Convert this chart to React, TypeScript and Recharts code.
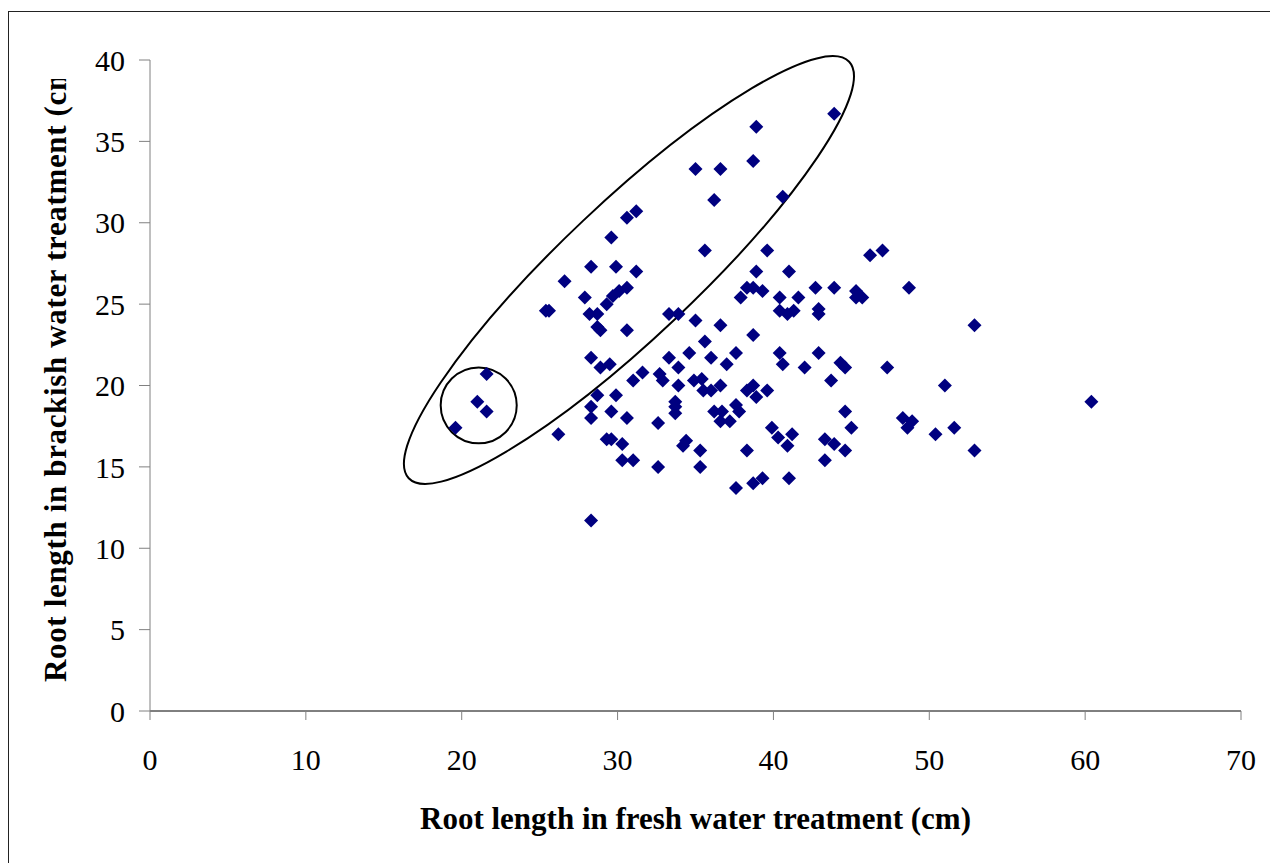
import React from "react";
import { ScatterChart, Scatter, XAxis, YAxis, ReferenceArea, Label } from "recharts";

// root length (cm) per accession: fresh water treatment (x) vs brackish water treatment (y)
const freshWater = [
  19.6, 21.0, 21.6, 21.6, 25.4, 25.6, 26.2, 26.6, 27.9, 28.3,
  28.2, 28.7, 28.3, 28.3, 28.3, 28.3, 28.7, 28.9, 28.7, 28.9,
  29.5, 29.6, 29.9, 29.3, 29.7, 30.1, 30.6, 29.9, 29.6, 29.3,
  29.6, 30.6, 31.2, 31.2, 30.6, 30.6, 30.3, 30.3, 31.0, 31.0,
  31.6, 32.6, 32.6, 32.7, 32.9, 33.3, 33.9, 33.3, 33.9, 33.9,
  33.7, 33.7, 33.7, 34.2, 34.4, 34.6, 34.9, 35.0, 35.0, 35.3,
  35.3, 35.4, 35.5, 35.6, 35.6, 36.0, 36.0, 36.2, 36.2, 36.6,
  36.6, 36.6, 36.7, 36.6, 37.0, 37.2, 37.6, 37.6, 37.8, 37.6,
  37.9, 38.3, 38.3, 38.3, 38.7, 38.7, 38.7, 38.7, 38.7, 38.9,
  38.9, 38.9, 39.3, 39.3, 39.6, 39.6, 39.9, 40.3, 40.4, 40.4,
  40.4, 40.6, 40.6, 40.9, 40.9, 41.0, 41.0, 41.2, 41.3, 41.6,
  42.0, 42.7, 42.9, 42.9, 42.9, 43.3, 43.3, 43.7, 43.9, 43.9,
  43.9, 44.3, 44.6, 44.6, 44.6, 45.0, 45.3, 45.3, 45.7, 46.2,
  47.0, 47.3, 48.3, 48.6, 48.7, 48.9, 50.4, 51.0, 51.6, 52.9,
  52.9, 60.4,
];
const brackishWater = [
  17.4, 19.0, 18.4, 20.7, 24.6, 24.6, 17.0, 26.4, 25.4, 27.3,
  24.4, 24.4, 21.7, 18.7, 18.0, 11.7, 23.6, 23.4, 19.4, 21.1,
  21.3, 29.1, 27.3, 25.0, 25.5, 25.8, 26.0, 19.4, 18.4, 16.7,
  16.7, 30.3, 30.7, 27.0, 23.4, 18.0, 16.4, 15.4, 15.4, 20.3,
  20.8, 17.7, 15.0, 20.7, 20.3, 24.4, 24.4, 21.7, 21.1, 20.0,
  19.0, 18.7, 18.3, 16.3, 16.6, 22.0, 20.3, 24.0, 33.3, 16.0,
  15.0, 20.4, 19.7, 22.7, 28.3, 21.7, 19.7, 31.4, 18.4, 33.3,
  23.7, 20.0, 18.4, 17.8, 21.3, 17.8, 22.0, 18.8, 18.4, 13.7,
  25.4, 26.0, 19.7, 16.0, 33.8, 26.0, 23.1, 20.0, 14.0, 35.9,
  27.0, 19.3, 25.8, 14.3, 28.3, 19.7, 17.4, 16.8, 25.4, 24.6,
  22.0, 31.6, 21.3, 24.4, 16.3, 27.0, 14.3, 17.0, 24.6, 25.4,
  21.1, 26.0, 24.7, 24.4, 22.0, 16.7, 15.4, 20.3, 36.7, 26.0,
  16.4, 21.4, 21.1, 18.4, 16.0, 17.4, 25.8, 25.4, 25.4, 28.0,
  28.3, 21.1, 18.0, 17.4, 26.0, 17.8, 17.0, 20.0, 17.4, 23.7,
  16.0, 19.0,
];

const xTicks = [0, 10, 20, 30, 40, 50, 60, 70];
const yTicks = [0, 5, 10, 15, 20, 25, 30, 35, 40];

// hand-drawn outlines, in data units
const groupEllipse = { x1: 16.6, y1: 14.3, x2: 44.86, y2: 39.89, ratio: 0.222 };
const smallCircle = { cx: 21.09, cy: 18.78, rx: 2.44, ry: 2.33 };

const points = freshWater.map((x, i) => ({ x, y: brackishWater[i] }));

const SERIF = "'Liberation Serif', 'Times New Roman', serif";

const Diamond = (props: any) => {
  const { cx, cy } = props;
  const r = 7;
  return (
    <path
      d={`M${cx},${cy - r}L${cx + r},${cy}L${cx},${cy + r}L${cx - r},${cy}Z`}
      fill="#000080"
    />
  );
};

// ellipse whose long axis runs corner to corner of the reference box
const TiltedEllipse = (props: any) => {
  const { x, y, width, height } = props;
  const cx = x + width / 2;
  const cy = y + height / 2;
  const a = Math.sqrt(width * width + height * height) / 2;
  const angle = (-Math.atan2(height, width) * 180) / Math.PI;
  return (
    <ellipse
      cx={cx}
      cy={cy}
      rx={a}
      ry={a * groupEllipse.ratio}
      transform={`rotate(${angle} ${cx} ${cy})`}
      fill="none"
      stroke="#000"
      strokeWidth={2}
    />
  );
};

const BoxEllipse = (props: any) => {
  const { x, y, width, height } = props;
  return (
    <ellipse
      cx={x + width / 2}
      cy={y + height / 2}
      rx={width / 2}
      ry={height / 2}
      fill="none"
      stroke="#000"
      strokeWidth={2}
    />
  );
};

const XTitle = (props: any) => {
  const vb = props.viewBox || { x: 150, y: 711, width: 1091, height: 152 };
  return (
    <text
      x={vb.x + vb.width / 2}
      y={vb.y + 118}
      textAnchor="middle"
      fontFamily={SERIF}
      fontWeight="bold"
      fontSize={31}
      fill="#000"
    >
      Root length in fresh water treatment (cm)
    </text>
  );
};

// the original title runs past the top of its box and is cut off there
const YTitle = () => {
  const bx = 66;
  const by = 682;
  return (
    <g>
      <defs>
        <clipPath id="ytitle-clip">
          <rect x={0} y={79} width={150} height={700} />
        </clipPath>
      </defs>
      <g clipPath="url(#ytitle-clip)">
        <text
          x={bx}
          y={by}
          transform={`rotate(-90 ${bx} ${by})`}
          textAnchor="start"
          fontFamily={SERIF}
          fontWeight="bold"
          fontSize={31}
          letterSpacing={0.65}
          fill="#000"
        >
          Root length in brackish water treatment (cm)
        </text>
      </g>
    </g>
  );
};

export default function App() {
  return (
    <div style={{ position: "relative", width: 1270, height: 863, overflow: "hidden", background: "#fff" }}>
      <style>{`body{margin:0;}`}</style>
      <div
        style={{
          position: "absolute",
          left: 8,
          top: 11,
          width: 1400,
          height: 1000,
          borderLeft: "1px solid #222",
          borderTop: "1px solid #222",
        }}
      />
      <ScatterChart
        width={1270}
        height={863}
        margin={{ top: 60, right: 29, left: 0, bottom: 0 }}
        style={{ position: "absolute", left: 0, top: 0 }}
      >
        <XAxis
          type="number"
          dataKey="x"
          domain={[0, 70]}
          ticks={xTicks}
          interval={0}
          height={152}
          tickSize={9}
          tickMargin={29}
          axisLine={{ stroke: "#000", strokeWidth: 1 }}
          tickLine={{ stroke: "#808080" }}
          tick={{ fill: "#000", fontSize: 30, fontFamily: SERIF }}
        >
          <Label content={XTitle} />
        </XAxis>
        <YAxis
          type="number"
          dataKey="y"
          domain={[0, 40]}
          ticks={yTicks}
          interval={0}
          width={150}
          tickSize={11}
          tickMargin={14}
          axisLine={{ stroke: "#808080", strokeWidth: 1 }}
          tickLine={{ stroke: "#808080" }}
          tick={{ fill: "#000", fontSize: 30, fontFamily: SERIF }}
        >
          <Label content={YTitle} />
        </YAxis>
        <ReferenceArea
          x1={groupEllipse.x1}
          x2={groupEllipse.x2}
          y1={groupEllipse.y1}
          y2={groupEllipse.y2}
          shape={TiltedEllipse}
        />
        <ReferenceArea
          x1={smallCircle.cx - smallCircle.rx}
          x2={smallCircle.cx + smallCircle.rx}
          y1={smallCircle.cy - smallCircle.ry}
          y2={smallCircle.cy + smallCircle.ry}
          shape={BoxEllipse}
        />
        <Scatter data={points} shape={Diamond} isAnimationActive={false} />
      </ScatterChart>
    </div>
  );
}
